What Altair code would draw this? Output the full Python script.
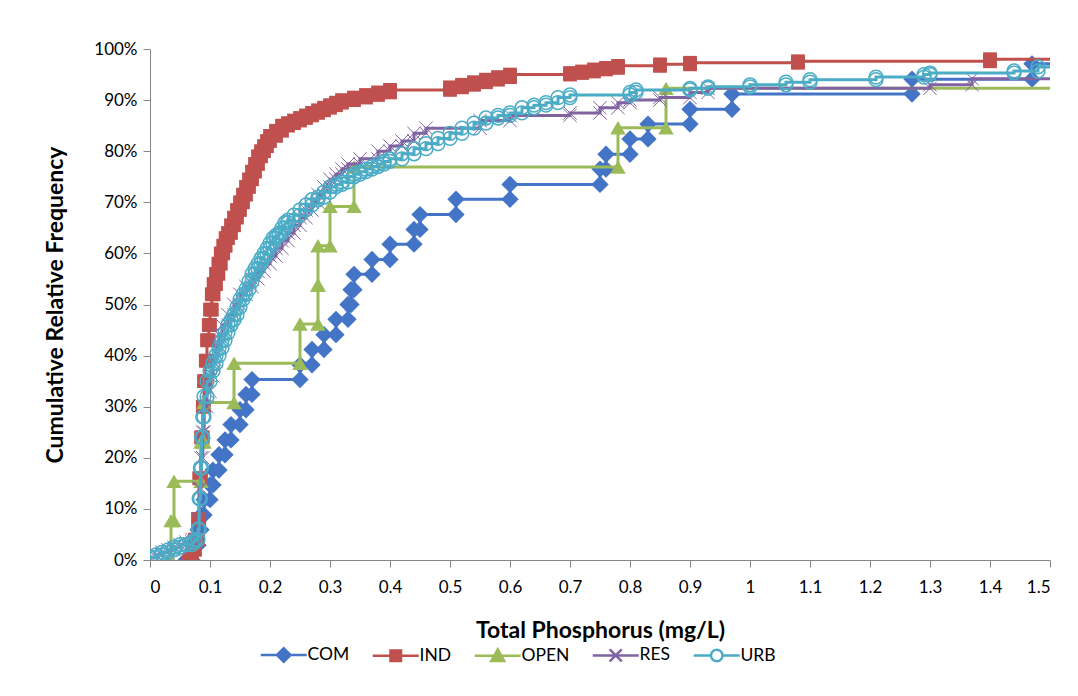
import altair as alt
import pandas as pd

# ---------------- data ----------------
series_names = ["COM", "IND", "OPEN", "RES", "URB"]
series_colors = ["#4374C6", "#C0504D", "#9BBB59", "#8064A2", "#4BACC6"]

com_x = [0.06, 0.07, 0.08, 0.085, 0.09, 0.10, 0.105, 0.115, 0.125, 0.135,
         0.15, 0.16, 0.17, 0.25, 0.27, 0.29, 0.31, 0.33, 0.335, 0.34,
         0.37, 0.40, 0.44, 0.45, 0.51, 0.60, 0.75, 0.76, 0.80, 0.83,
         0.90, 0.97, 1.27, 1.47]
com_y = [0, 2.9, 5.9, 8.8, 11.8, 14.7, 17.6, 20.6, 23.5, 26.5,
         29.4, 32.4, 35.3, 38.2, 41.2, 44.1, 47.1, 50.0, 52.9, 55.9,
         58.8, 61.8, 64.7, 67.6, 70.6, 73.5, 76.5, 79.4, 82.4, 85.3,
         88.2, 91.2, 94.1, 97.1]

ind_x = [0.065, 0.07, 0.075, 0.08, 0.082, 0.085, 0.088, 0.09, 0.093, 0.095,
         0.098, 0.10, 0.103, 0.106, 0.11, 0.114, 0.118, 0.122, 0.126, 0.13,
         0.135, 0.14, 0.145, 0.15, 0.155, 0.16, 0.165, 0.17, 0.175, 0.18,
         0.185, 0.19, 0.195, 0.20, 0.21, 0.22, 0.23, 0.24, 0.25, 0.26,
         0.27, 0.28, 0.29, 0.30, 0.31, 0.32, 0.34, 0.36, 0.38, 0.40,
         0.50, 0.52, 0.54, 0.56, 0.58, 0.60, 0.70, 0.72, 0.74, 0.76,
         0.78, 0.85, 0.90, 1.08, 1.40]
ind_y = [0, 2, 4, 8, 16, 24, 30, 35, 39, 43,
         46, 49, 52, 54, 56, 58, 60, 61.5, 63, 64,
         65.5, 67, 68.5, 70, 71.5, 73, 74.5, 76, 77.5, 79,
         80, 81, 82, 83, 84, 85, 85.5, 86, 86.5, 87,
         87.5, 88, 88.5, 89, 89.5, 90, 90.5, 91, 91.5, 92,
         92.5, 93, 93.5, 94, 94.5, 95, 95.3, 95.6, 96, 96.3,
         96.7, 97, 97.3, 97.6, 98]

open_x = [0.03, 0.035, 0.04, 0.085, 0.09, 0.14, 0.25, 0.28, 0.28, 0.30,
          0.34, 0.78, 0.86]
open_y = [0, 7.7, 15.4, 23.1, 30.8, 38.5, 46.2, 53.8, 61.5, 69.2,
          76.9, 84.6, 92.3]

res_x = [0.0, 0.01, 0.02, 0.03, 0.04, 0.05, 0.06, 0.07, 0.08, 0.082,
         0.085, 0.088, 0.09, 0.095, 0.10, 0.105, 0.11, 0.115, 0.12, 0.13,
         0.14, 0.15, 0.16, 0.17, 0.18, 0.19, 0.20, 0.21, 0.22, 0.23,
         0.24, 0.25, 0.26, 0.27, 0.28, 0.29, 0.30, 0.31, 0.32, 0.33,
         0.35, 0.38, 0.40, 0.42, 0.44, 0.46, 0.55, 0.60, 0.70, 0.75,
         0.78, 0.80, 0.85, 0.90, 0.93, 1.30, 1.37]
res_y = [0.5, 1, 1.5, 2, 2.5, 3, 3.5, 4, 8, 14,
         20, 25, 30, 33, 36, 39, 42, 44, 46, 48,
         50, 52, 53.5, 55, 56.5, 58, 59.5, 61, 62.5, 64,
         65.5, 67, 68.5, 70, 71.5, 73, 74.5, 75.5, 76.5, 77.5,
         78.5, 80, 81, 82, 83.5, 84.5, 86, 87, 87.5, 88.5,
         89.5, 90, 90.5, 91.5, 92.3, 93, 94.2]

urb_x = [0.0, 0.01, 0.02, 0.03, 0.04, 0.05, 0.06, 0.07, 0.075, 0.08,
         0.082, 0.084, 0.086, 0.088, 0.09, 0.095, 0.10, 0.105, 0.11, 0.115,
         0.12, 0.125, 0.13, 0.135, 0.14, 0.145, 0.15, 0.155, 0.16, 0.165,
         0.17, 0.175, 0.18, 0.185, 0.19, 0.195, 0.20, 0.205, 0.21, 0.215,
         0.22, 0.225, 0.23, 0.24, 0.25, 0.26, 0.27, 0.28, 0.29, 0.30,
         0.31, 0.32, 0.33, 0.34, 0.35, 0.36, 0.37, 0.38, 0.39, 0.40,
         0.42, 0.44, 0.46, 0.48, 0.50, 0.52, 0.54, 0.56, 0.58, 0.60,
         0.62, 0.64, 0.66, 0.68, 0.70, 0.80, 0.81, 0.90, 0.93, 1.00,
         1.06, 1.10, 1.21, 1.29, 1.30, 1.44, 1.48]
urb_y = [0.5, 1, 1.5, 2, 2.5, 3, 3, 3.5, 4, 6,
         12, 18, 24, 28, 32, 35, 37, 38.5, 40, 41.5,
         43, 44.5, 46, 47, 48, 49.5, 51, 52, 53, 54.5,
         56, 57, 58, 59, 60, 61, 62, 63, 63.5, 64,
         65, 66, 66.5, 67.5, 68.5, 69.5, 70.5, 71, 72, 73,
         73.5, 74, 75, 75.5, 76, 76.5, 77, 77.5, 78, 78.5,
         79.5, 80.5, 81.5, 82.5, 83.5, 84.5, 85.5, 86.5, 87, 87.5,
         88.5, 89, 89.5, 90.5, 91, 91.5, 92, 92.3, 92.6, 93,
         93.5, 94, 94.5, 95, 95.3, 95.7, 96.5]

x_ticks = [0, 0.1, 0.2, 0.3, 0.4, 0.5, 0.6, 0.7, 0.8, 0.9, 1.0, 1.1, 1.2, 1.3, 1.4, 1.5]
y_ticks = [0, 10, 20, 30, 40, 50, 60, 70, 80, 90, 100]
X_MAX = 1.5

# ---------------- build step tables ----------------
def step_rows(name, xs, ys):
    rows = []
    k = 0
    for i, (x, y) in enumerate(zip(xs, ys)):
        if i > 0:
            rows.append({"series": name, "x": x, "y": ys[i - 1], "o": k, "m": True})
            k += 1
        rows.append({"series": name, "x": x, "y": y, "o": k, "m": True})
        k += 1
    rows.append({"series": name, "x": X_MAX, "y": ys[-1], "o": k, "m": False})
    return rows

all_xy = {"COM": (com_x, com_y), "IND": (ind_x, ind_y), "OPEN": (open_x, open_y),
          "RES": (res_x, res_y), "URB": (urb_x, urb_y)}
rows = []
for n in series_names:
    rows += step_rows(n, *all_xy[n])
df = pd.DataFrame(rows)

x_enc = alt.X("x:Q", scale=alt.Scale(domain=[0, 1.5], nice=False),
              axis=alt.Axis(values=x_ticks, format="~g", title="Total Phosphorus (mg/L)",
                            grid=False, titlePadding=24, labelPadding=12))
y_enc = alt.Y("y:Q", scale=alt.Scale(domain=[0, 100], nice=False),
              axis=alt.Axis(values=y_ticks, labelExpr="datum.value + '%'",
                            title="Cumulative Relative Frequency", grid=False, titlePadding=26))

x_path = "M-1,-1L1,1M-1,1L1,-1"
marker_style = {
    "COM": dict(shape="diamond", filled=True, size=300),
    "IND": dict(shape="square", filled=True, size=190),
    "OPEN": dict(shape="triangle-up", filled=True, size=240),
    "RES": dict(shape=x_path, filled=False, size=180, strokeWidth=1),
    "URB": dict(shape="circle", filled=False, size=190, strokeWidth=1.5),
}

layers = []
for n, c in zip(series_names, series_colors):
    base = alt.Chart(df).transform_filter(alt.datum.series == n)
    line = base.mark_line(strokeWidth=3, clip=True, color=c).encode(
        x=x_enc, y=y_enc, order="o:Q")
    pts = base.transform_filter("datum.m").mark_point(
        clip=True, color=c, opacity=1, **marker_style[n]).encode(x=x_enc, y=y_enc)
    layers += [line, pts]

# legend-only layer (line + marker symbols)
legend_paths = [
    "M-4.6,0H4.6M-1.35,0L0,-1.35L1.35,0L0,1.35Z",
    "M-4.6,0H4.6M-1.05,-1.05H1.05V1.05H-1.05Z",
    "M-4.6,0H4.6M-1.3,1.05L0,-1.3L1.3,1.05Z",
    "M-4.6,0H4.6M-1.2,-1.2L1.2,1.2M-1.2,1.2L1.2,-1.2",
    "M-4.6,0H-1.15M1.15,0H4.6M-1.15,0A1.15,1.15,0,1,0,1.15,0A1.15,1.15,0,1,0,-1.15,0",
]
legend_fills = ["#4374C6", "#C0504D", "#9BBB59", "#ffffff", "#ffffff"]
leg = alt.Legend(title=None, orient="none", direction="horizontal", legendX=106, legendY=597,
                 padding=0, symbolSize=100, symbolOffset=19, labelOffset=15, columnPadding=17,
                 labelFont="Lato", labelFontSize=17.5, labelColor="#000000",
                 symbolStrokeWidth=2.5, symbolOpacity=1)
legend_df = pd.DataFrame({"series": series_names})
legend_layer = alt.Chart(legend_df).mark_point(clip=True, filled=True, strokeWidth=2.5, size=100,
                                               opacity=1).encode(
    x=alt.value(-300), y=alt.value(-300),
    shape=alt.Shape("series:N", scale=alt.Scale(domain=series_names, range=legend_paths), legend=leg),
    stroke=alt.Stroke("series:N", scale=alt.Scale(domain=series_names, range=series_colors), legend=leg),
    fill=alt.Fill("series:N", scale=alt.Scale(domain=series_names, range=legend_fills), legend=leg),
)
layers.append(legend_layer)

chart = alt.layer(*layers).properties(
    width=900, height=511,
    autosize=alt.AutoSizeParams(type="none"),
    padding={"left": 150, "top": 49, "right": 28, "bottom": 136},
    background="white",
).configure_view(stroke=None).configure_axis(
    labelFont="Lato", labelFontSize=17, labelColor="#000000",
    titleFont="Lato", titleFontSize=23, titleFontWeight="bold", titleColor="#000000",
    domainColor="#868686", tickColor="#868686", tickSize=7, domainWidth=1, tickWidth=1,
    labelPadding=6,
)

chart.save("out.html", embed_options={"renderer": "svg", "actions": False})
